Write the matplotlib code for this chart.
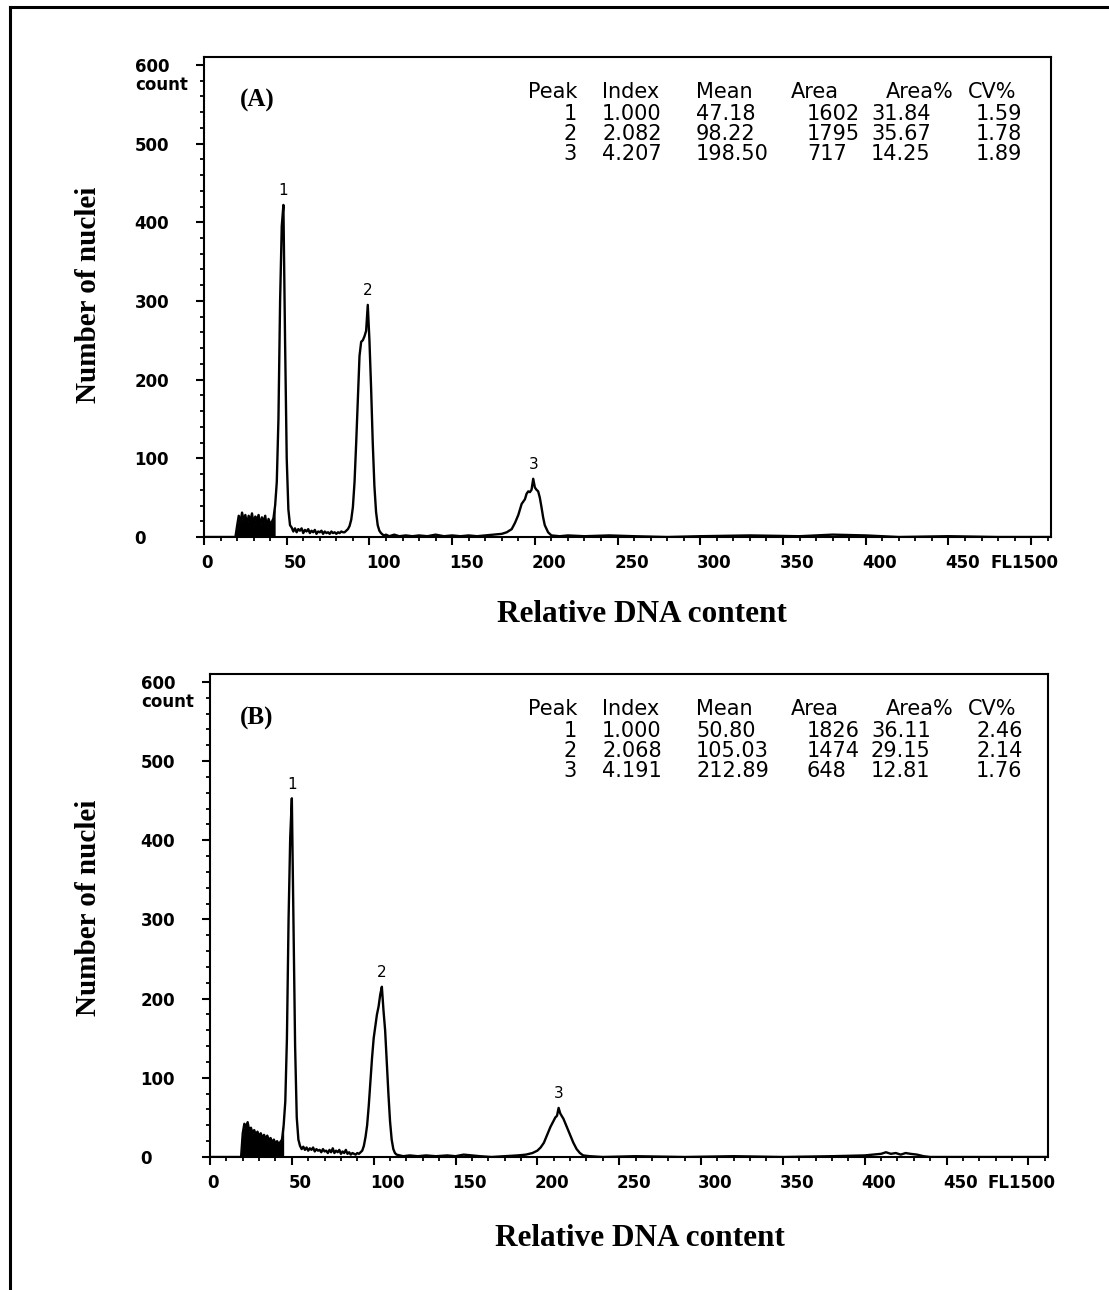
import matplotlib
matplotlib.use("Agg")
import matplotlib.pyplot as plt
from matplotlib.lines import Line2D
from matplotlib.transforms import ScaledTranslation

# ---- data (channel, count) ----
a_channel = [0, 19, 20, 21, 22, 23, 24, 25, 26, 27, 28, 29, 30, 31, 32, 33, 34, 35, 36, 37, 38, 39, 40, 41,
             42, 43, 44, 45, 46, 47, 48, 49, 50, 51, 52, 53, 54, 55, 56, 57, 58, 59, 60, 61, 62, 63, 64, 65,
             66, 67, 68, 69, 70, 71, 72, 73, 74, 75, 76, 77, 78, 79, 80, 81, 82, 83, 84, 85, 86, 87, 88, 89,
             90, 91, 92, 93, 94, 95, 96, 97, 98, 99, 100, 101, 102, 103, 104, 105, 106, 107, 108, 109, 110,
             112, 115, 118, 122, 126, 130, 135, 140, 145, 150, 155, 160, 165, 170, 175, 180, 183, 186, 188,
             190, 192, 194, 195, 196, 197, 198, 199, 200, 201, 202, 203, 204, 205, 206, 208, 210, 215, 220,
             230, 245, 260, 280, 300, 330, 360, 380, 400, 420, 450, 480, 512]
a_count = [0, 0, 14, 27, 18, 31, 21, 28, 15, 27, 20, 30, 16, 26, 22, 28, 14, 25, 19, 27, 12, 23, 17, 19,
           24, 40, 70, 150, 300, 395, 422, 250, 100, 35, 15, 12, 7, 11, 6, 10, 8, 11, 5, 9, 7, 10, 5, 8,
           6, 9, 4, 7, 6, 8, 4, 7, 5, 6, 4, 7, 5, 6, 4, 6, 5, 7, 6, 6, 8, 10, 14, 22,
           38, 70, 120, 175, 230, 248, 250, 255, 262, 295, 250, 190, 120, 65, 32, 15, 8, 5, 3, 2, 3,
           1, 3, 1, 2, 1, 2, 1, 3, 1, 2, 1, 2, 1, 2, 3, 4, 6, 10, 18,
           28, 42, 48, 55, 58, 57, 60, 74, 63, 60, 58, 50, 38, 25, 15, 6, 2, 1, 2,
           1, 2, 1, 0, 1, 2, 1, 3, 2, 0, 1, 0, 0]

b_channel = [0, 19, 20, 21, 22, 23, 24, 25, 26, 27, 28, 29, 30, 31, 32, 33, 34, 35, 36, 37, 38, 39, 40, 41,
             42, 43, 44, 45, 46, 47, 48, 49, 50, 51, 52, 53, 54, 55, 56, 57, 58, 59, 60, 61, 62, 63, 64, 65,
             66, 67, 68, 69, 70, 71, 72, 73, 74, 75, 76, 77, 78, 79, 80, 81, 82, 83, 84, 85, 86, 87, 88, 89,
             90, 91, 92, 93, 94, 95, 96, 97, 98, 99, 100, 101, 102, 103, 104, 105, 106, 107, 108, 109, 110,
             111, 112, 113, 114, 118, 122, 127, 132, 138, 145, 150, 155, 160, 165, 172, 180, 188, 193, 197,
             200, 202, 204, 206, 208, 210, 211, 212, 213, 214, 216, 218, 220, 222, 224, 226, 228, 232, 240,
             260, 290, 320, 350, 380, 400, 405, 410, 413, 416, 419, 422, 425, 428, 432, 436, 440, 470, 512]
b_count = [0, 0, 30, 42, 38, 44, 33, 37, 30, 34, 28, 32, 26, 30, 24, 28, 23, 27, 21, 24, 18, 22, 17, 20,
           16, 19, 22, 40, 70, 150, 300, 403, 453, 300, 140, 50, 22, 14, 10, 13, 9, 12, 8, 11, 9, 12, 7, 10,
           8, 9, 6, 10, 7, 8, 5, 9, 6, 11, 5, 8, 6, 9, 4, 7, 5, 9, 4, 6, 3, 5, 4, 3,
           5, 4, 6, 8, 14, 25, 40, 65, 95, 125, 150, 165, 180, 190, 205, 215, 185, 160, 120, 80, 45,
           22, 10, 5, 3, 1, 2, 1, 2, 1, 2, 1, 3, 2, 1, 0, 1, 2, 3, 5,
           8, 12, 18, 28, 38, 46, 50, 52, 62, 55, 48, 38, 28, 18, 10, 5, 2, 1, 0,
           1, 0, 1, 0, 1, 2, 3, 4, 6, 4, 5, 3, 5, 4, 3, 1, 0, 0, 0]

table_header = ["Peak", "Index", "Mean", "Area", "Area%", "CV%"]
a_peak = ["1", "2", "3"]
a_index = ["1.000", "2.082", "4.207"]
a_mean = [47.18, 98.22, 198.50]
a_area = ["1602", "1795", "717"]
a_area_pct = ["31.84", "35.67", "14.25"]
a_cv = ["1.59", "1.78", "1.89"]

b_peak = ["1", "2", "3"]
b_index = ["1.000", "2.068", "4.191"]
b_mean = [50.80, 105.03, 212.89]
b_area = ["1826", "1474", "648"]
b_area_pct = ["36.11", "29.15", "12.81"]
b_cv = ["2.46", "2.14", "1.76"]

x_ticks = [0, 50, 100, 150, 200, 250, 300, 350, 400, 450, 500]
x_tick_labels = ["0", "50", "100", "150", "200", "250", "300", "350", "400", "450", "FL1500"]
y_ticks = [0, 100, 200, 300, 400, 500, 600]

W, H = 1109, 1290
SERIF = ["Liberation Serif", "DejaVu Serif"]
TICKFONT = dict(family="DejaVu Sans", weight="bold", size=12)


def fx(px):
    return px / W


def fy(py):
    return 1 - py / H


def drawPanel(fig, rect, channel, count, fill_end, peak, index, mean, area, area_pct, cv, letter, letter_y, table_top):
    ax = fig.add_axes(rect)
    ax.plot(channel, count, color="black", lw=1.7)
    # debris region is so dense it prints as a solid block
    xs = [c for c in channel if c <= fill_end]
    ys = count[:len(xs)]
    ax.fill_between(xs, 0, ys, color="black", lw=0)

    ax.set_xlim(0, 512)
    ax.set_ylim(0, 610)
    for s in ax.spines.values():
        s.set_linewidth(1.5)

    ax.set_xticks(x_ticks, x_tick_labels, ha="left", **TICKFONT)
    ax.set_xticks(range(0, 511, 10), minor=True)
    ax.set_yticks(y_ticks, [str(v) for v in y_ticks], ha="left", **TICKFONT)
    ax.set_yticks(range(0, 601, 20), minor=True)
    ax.tick_params(which="major", direction="out", length=6, width=1.5)
    ax.tick_params(which="minor", direction="out", length=3, width=1.3)
    ax.tick_params(axis="x", which="major", pad=6)
    ax.tick_params(axis="y", which="major", pad=44)
    for lab in ax.get_xticklabels()[:-1]:
        lab.set_transform(lab.get_transform() + ScaledTranslation(-3 / 100, 0, fig.dpi_scale_trans))
    last = ax.get_xticklabels()[-1]
    last.set_ha("center")
    last.set_transform(last.get_transform() + ScaledTranslation(-7 / 100, 0, fig.dpi_scale_trans))

    ax.annotate("count", xy=(0, 600), xycoords=ax.get_yaxis_transform(), xytext=(-69, -20),
                textcoords="offset pixels", ha="left", va="center", **TICKFONT)

    # peak numbers above the highest channel of each peak
    for i, m in enumerate(mean):
        top, ch_top = max((c, ch) for ch, c in zip(channel, count) if abs(ch - m) <= 4)
        ax.annotate(peak[i], xy=(ch_top, top), xytext=(0, 14), textcoords="offset pixels",
                    ha="center", va="center", fontsize=11, family="DejaVu Sans")

    # peak statistics table
    tf = dict(family="DejaVu Sans", size=15, va="center")
    head_x = [528, 602, 696, 791, 886, 968]
    for hx, h in zip(head_x, table_header):
        fig.text(fx(hx), fy(table_top + 35), h, **tf)
    for i in range(3):
        yy = fy(table_top + 57 + 20 * i)
        fig.text(fx(577), yy, peak[i], ha="right", **tf)
        fig.text(fx(602), yy, index[i], **tf)
        fig.text(fx(696), yy, "%.2f" % mean[i], **tf)
        fig.text(fx(807), yy, area[i], **tf)
        fig.text(fx(871), yy, area_pct[i], **tf)
        fig.text(fx(976), yy, cv[i], **tf)

    fig.text(fx(240), fy(letter_y), letter, family=SERIF, weight="bold", size=18, va="center")
    return ax


fig = plt.figure(figsize=(W / 100, H / 100), dpi=100)

drawPanel(fig, [fx(204), fy(537), fx(1051 - 204), (537 - 57) / H], a_channel, a_count, 43,
          a_peak, a_index, a_mean, a_area, a_area_pct, a_cv, "(A)", 100, 57)
drawPanel(fig, [fx(210), fy(1157), fx(1048 - 210), (1157 - 674) / H], b_channel, b_count, 45,
          b_peak, b_index, b_mean, b_area, b_area_pct, b_cv, "(B)", 718, 674)

for yc in (295, 908):
    fig.text(fx(88), fy(yc), "Number of nuclei", rotation=90, family=SERIF, weight="bold",
             size=21, ha="center", va="center")
for xc, yc in ((642, 615), (640, 1238)):
    fig.text(fx(xc), fy(yc), "Relative DNA content", family=SERIF, weight="bold",
             size=22.5, ha="center", va="center")

# frame drawn on the left and top of the page
fig.add_artist(Line2D([fx(10), fx(10)], [0, fy(7)], transform=fig.transFigure, color="black", lw=2.2))
fig.add_artist(Line2D([fx(10), 1], [fy(7), fy(7)], transform=fig.transFigure, color="black", lw=2.2))

fig.savefig("out.png", dpi=100)
